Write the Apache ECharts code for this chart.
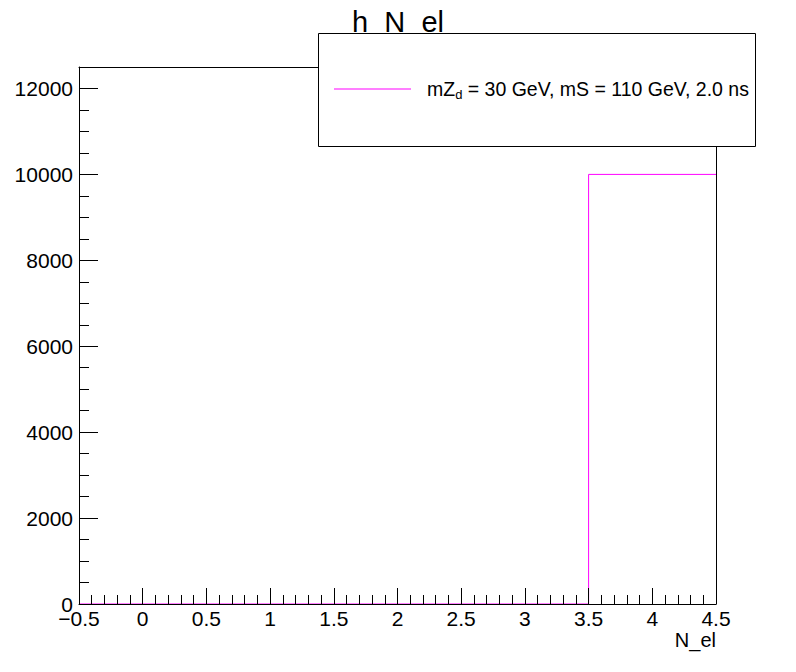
<!DOCTYPE html>
<html>
<head>
<meta charset="utf-8">
<script src="https://cdn.jsdelivr.net/npm/echarts@6/dist/echarts.min.js"></script>
<style>
html,body{margin:0;padding:0;background:#fff;}
#chart{width:796px;height:672px;}
</style>
</head>
<body>
<div id="chart"></div>
<script>
// ---- data ----
const chartTitle = 'h_N_el';
const xTitle = 'N_el';
const seriesName = 'mZ_d = 30 GeV, mS = 110 GeV, 2.0 ns';
const legendMain = 'mZ';
const legendSub = 'd';
const legendRest = ' = 30 GeV, mS = 110 GeV, 2.0 ns';
const binEdges = [-0.5, 0.5, 1.5, 2.5, 3.5, 4.5];
const binCounts = [0, 0, 0, 0, 10000];
const xRange = [-0.5, 4.5];
const yRange = [0, 12500];

// step outline of histogram built from bins
const outline = [];
for (let i = 0; i < binCounts.length; i++) {
  outline.push([binEdges[i], binCounts[i]]);
  outline.push([binEdges[i + 1], binCounts[i]]);
}

const FONT = 'Liberation Sans, Arial, Helvetica, sans-serif';
const chart = echarts.init(document.getElementById('chart'), null, {renderer: 'svg'});

const option = {
  backgroundColor: '#fff',
  animation: false,
  title: {
    text: chartTitle,
    left: 'center',
    top: 2,
    textStyle: {fontSize: 29, fontWeight: 'normal', color: '#000', fontFamily: FONT}
  },
  grid: {left: 79, right: 80, top: 67, bottom: 68, containLabel: false},
  legend: {
    z: 200,
    left: 334,
    top: 79,
    padding: 0,
    icon: 'rect',
    itemWidth: 77,
    itemHeight: 1.2,
    data: [seriesName],
    formatter: function () {
      return '{g|}{a|' + legendMain + '}{s|' + legendSub + '}{a|' + legendRest + '}';
    },
    textStyle: {
      color: '#000',
      fontFamily: FONT,
      rich: {
        g: {width: 11},
        a: {fontSize: 19.5, lineHeight: 24, color: '#000', fontFamily: FONT},
        s: {fontSize: 13, lineHeight: 12, verticalAlign: 'bottom', color: '#000', fontFamily: FONT}
      }
    }
  },
  xAxis: [
    {
      type: 'value', position: 'bottom', min: xRange[0], max: xRange[1], interval: 0.5, z: 50,
      axisLine: {show: true, onZero: false, lineStyle: {color: '#000', width: 1}},
      axisTick: {show: true, inside: true, length: 16, lineStyle: {color: '#000', width: 1}},
      minorTick: {show: true, splitNumber: 5, length: 9, lineStyle: {color: '#000', width: 1}},
      axisLabel: {
        show: true, margin: 4, color: '#000', fontSize: 21, fontFamily: FONT,
        formatter: function (v) { return String(v).replace('-', '\u2212'); }
      },
      splitLine: {show: false}, minorSplitLine: {show: false}
    },
    {
      type: 'value', position: 'top', min: xRange[0], max: xRange[1], z: 50,
      axisLine: {show: true, onZero: false, lineStyle: {color: '#000', width: 1}},
      axisTick: {show: false}, axisLabel: {show: false}, splitLine: {show: false}
    }
  ],
  yAxis: [
    {
      type: 'value', position: 'left', min: yRange[0], max: yRange[1], interval: 2000, z: 50,
      axisLine: {show: true, onZero: false, lineStyle: {color: '#000', width: 1}},
      axisTick: {show: true, inside: true, length: 19, lineStyle: {color: '#000', width: 1}},
      axisLabel: {
        show: true, margin: 6, color: '#000', fontSize: 21, fontFamily: FONT, showMaxLabel: false,
        formatter: function (v) { return String(v); }
      },
      splitLine: {show: false}
    },
    {
      type: 'value', position: 'left', offset: 0, min: yRange[0], max: yRange[1], interval: 500, z: 50,
      axisLine: {show: false, onZero: false},
      axisTick: {show: true, inside: true, length: 10, lineStyle: {color: '#000', width: 1}},
      axisLabel: {show: false}, splitLine: {show: false}
    },
    {
      type: 'value', position: 'right', min: yRange[0], max: yRange[1], z: 50,
      axisLine: {show: true, onZero: false, lineStyle: {color: '#000', width: 1}},
      axisTick: {show: false}, axisLabel: {show: false}, splitLine: {show: false}
    }
  ],
  series: [
    {
      name: seriesName,
      type: 'line',
      xAxisIndex: 0,
      yAxisIndex: 0,
      data: outline,
      symbol: 'none',
      color: '#ff00ff',
      lineStyle: {color: '#ff00ff', width: 1},
      z: 2
    }
  ],
  graphic: [
    {
      type: 'rect', z: 100,
      shape: {x: 318.5, y: 33.5, width: 437, height: 113},
      style: {fill: '#fff', stroke: '#000', lineWidth: 1}
    },
    {
      type: 'text', z: 100,
      x: 716, y: 630,
      style: {text: xTitle, align: 'right', verticalAlign: 'top', fontSize: 20, fontFamily: FONT, fill: '#000'}
    }
  ]
};
chart.setOption(option);
</script>
</body>
</html>
